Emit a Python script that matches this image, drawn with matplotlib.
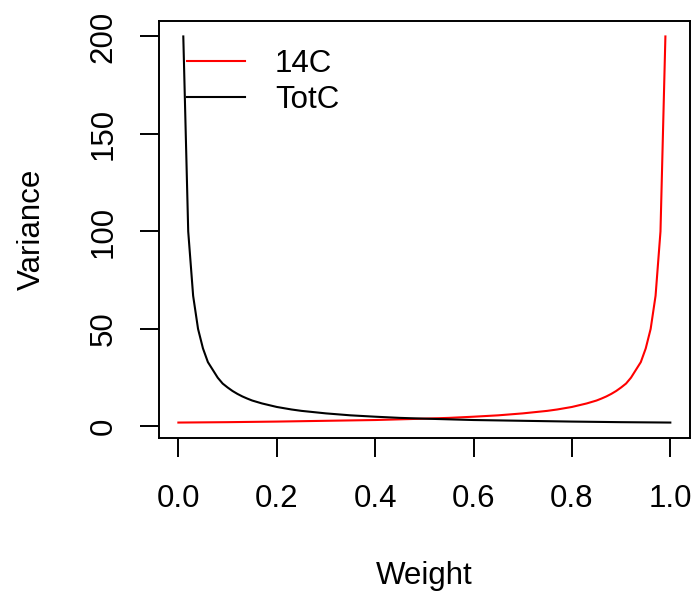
import numpy as np
import matplotlib.pyplot as plt

# values (R base plot)
w_totc = [0.01, 0.02, 0.03, 0.04, 0.05, 0.06, 0.07, 0.08, 0.09, 0.10,
          0.11, 0.12, 0.13, 0.14, 0.15, 0.17, 0.20, 0.23, 0.25, 0.30,
          0.35, 0.40, 0.45, 0.50, 0.60, 0.70, 0.80, 0.90, 1.00]
var_totc = [200, 100, 67, 50, 40, 33, 29, 25, 22, 20,
            18.2, 16.7, 15.4, 14.3, 13.3, 11.8, 10, 8.7, 8, 6.7,
            5.7, 5, 4.4, 4, 3.3, 2.9, 2.5, 2.2, 2.0]

w_14c = [0.00, 0.10, 0.20, 0.30, 0.40, 0.50, 0.55, 0.60, 0.65, 0.70,
         0.75, 0.77, 0.80, 0.83, 0.85, 0.86, 0.87, 0.88, 0.89, 0.90,
         0.91, 0.92, 0.93, 0.94, 0.95, 0.96, 0.97, 0.98, 0.99]
var_14c = [2.0, 2.2, 2.5, 2.9, 3.3, 4, 4.4, 5, 5.7, 6.7,
           8, 8.7, 10, 11.8, 13.3, 14.3, 15.4, 16.7, 18.2, 20,
           22, 25, 29, 33, 40, 50, 67, 100, 200]

series_names = ["14C", "TotC"]
series_colors = ["red", "black"]
x_ticks = [0.0, 0.2, 0.4, 0.6, 0.8, 1.0]
y_ticks = [0, 50, 100, 150, 200]

plt.rcParams["font.family"] = ["Liberation Sans", "DejaVu Sans"]
fs = 22.5

fig = plt.figure(figsize=(6.98, 5.97), dpi=100)
ax = fig.add_axes([158.7 / 698, 1 - 438 / 597, (690 - 158.7) / 698, (438 - 21) / 597])

ax.plot(w_14c, var_14c, color=series_colors[0], lw=1.5, label=series_names[0])
ax.plot(w_totc, var_totc, color=series_colors[1], lw=1.5, label=series_names[1])

# R style 4% padding around data range
xmin, xmax = 0.0, 1.0
ymin, ymax = 2.0, 200.0
ax.set_xlim(xmin - 0.04 * (xmax - xmin), xmax + 0.04 * (xmax - xmin))
ax.set_ylim(ymin - 0.04 * (ymax - ymin), ymax + 0.04 * (ymax - ymin))

ax.set_xticks(x_ticks)
ax.set_xticklabels([f"{t:.1f}" for t in x_ticks])
ax.set_yticks(y_ticks)
ax.set_yticklabels([str(t) for t in y_ticks], rotation=90, va="center")
ax.tick_params(length=14, width=1.4, labelsize=fs)
ax.tick_params(axis="x", pad=19)
ax.tick_params(axis="y", pad=15)

for s in ax.spines.values():
    s.set_linewidth(1.4)

ax.set_xlabel("Weight", fontsize=fs, labelpad=34)
ax.set_ylabel("Variance", fontsize=fs, labelpad=30)

ax.legend(loc="upper left", bbox_to_anchor=(0.053, 0.933), frameon=False,
          fontsize=fs, borderpad=0, borderaxespad=0, handlelength=1.87,
          handletextpad=0.95, labelspacing=0.2)

fig.savefig("out.png", dpi=100)
